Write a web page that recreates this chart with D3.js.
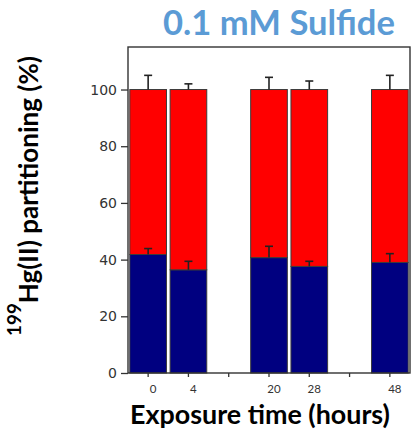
<!DOCTYPE html>
<html>
<head>
<meta charset="utf-8">
<script src="https://cdn.jsdelivr.net/npm/d3@7"></script>
<style>
  html, body { margin: 0; padding: 0; background: #fff; }
  svg { display: block; }
</style>
</head>
<body>
<script>
// Exposure times (hours) and the slot each one occupies on the x axis (empty slots leave gaps)
const timepoints = ["0", "4", "20", "28", "48"];
const slots = [0, 1, 3, 4, 6];
const slotCount = 7;

// Partitioning of 199Hg(II), percent: lower (navy) and upper (red) fractions
const lowerFraction = [41.8, 36.4, 40.7, 37.6, 39.0];
const lowerError = [2.1, 3.0, 4.0, 1.8, 3.1];
const upperFraction = [58.2, 63.6, 59.3, 62.4, 61.0];
const upperError = [5.0, 2.0, 4.3, 3.0, 5.0];

const yTicks = [0, 20, 40, 60, 80, 100];
const yMax = 115;

const W = 411, H = 429;
const plot = { left: 128, right: 410, top: 47, bottom: 373 };

const svg = d3.select("body").append("svg")
  .attr("width", W).attr("height", H);

const x = d3.scaleBand()
  .domain(d3.range(slotCount))
  .range([plot.left, plot.right])
  .paddingInner(0.09)
  .paddingOuter(0.045);

const y = d3.scaleLinear()
  .domain([0, yMax])
  .range([plot.bottom, plot.top]);

const data = timepoints.map((t, i) => ({
  t, slot: slots[i],
  lower: lowerFraction[i], lowerErr: lowerError[i],
  upper: upperFraction[i], upperErr: upperError[i]
}));

// Stacked bars
const bars = svg.append("g");
bars.selectAll("rect.lower").data(data).join("rect")
  .attr("class", "lower")
  .attr("x", d => x(d.slot))
  .attr("width", x.bandwidth())
  .attr("y", d => y(d.lower))
  .attr("height", d => y(0) - y(d.lower))
  .attr("fill", "#000080")
  .attr("stroke", "#3c3c3c").attr("stroke-width", 1);

bars.selectAll("rect.upper").data(data).join("rect")
  .attr("class", "upper")
  .attr("x", d => x(d.slot))
  .attr("width", x.bandwidth())
  .attr("y", d => y(d.lower + d.upper))
  .attr("height", d => y(d.lower) - y(d.lower + d.upper))
  .attr("fill", "#ff0000")
  .attr("stroke", "#3c3c3c").attr("stroke-width", 1);

// Upper-half error bars on each stack segment
function errorBars(cls, top, err) {
  const g = svg.append("g").attr("stroke", "#222").attr("stroke-width", 1.6).attr("fill", "none");
  const cx = d => x(d.slot) + x.bandwidth() / 2;
  g.selectAll("line.stem-" + cls).data(data).join("line")
    .attr("x1", cx).attr("x2", cx)
    .attr("y1", d => y(top(d))).attr("y2", d => y(top(d) + err(d)));
  g.selectAll("line.cap-" + cls).data(data).join("line")
    .attr("x1", d => cx(d) - 4).attr("x2", d => cx(d) + 4)
    .attr("y1", d => y(top(d) + err(d))).attr("y2", d => y(top(d) + err(d)));
}
errorBars("lower", d => d.lower, d => d.lowerErr);
errorBars("upper", d => d.lower + d.upper, d => d.upperErr);

// Frame
svg.append("rect")
  .attr("x", plot.left).attr("y", plot.top)
  .attr("width", plot.right - plot.left).attr("height", plot.bottom - plot.top)
  .attr("fill", "none").attr("stroke", "#333").attr("stroke-width", 1.4);

// Y axis
const yAxis = svg.append("g")
  .attr("transform", `translate(${plot.left},0)`)
  .call(d3.axisLeft(y).tickValues(yTicks).tickSize(7).tickPadding(4));
yAxis.select(".domain").remove();
yAxis.selectAll(".tick line").attr("stroke", "#333").attr("stroke-width", 1.3);
yAxis.selectAll(".tick text")
  .attr("font-family", "'DejaVu Sans', Verdana, sans-serif")
  .attr("font-size", 14)
  .attr("fill", "#333");

// X axis
const labelAt = new Map(data.map(d => [d.slot, d.t]));
const xAxis = svg.append("g")
  .attr("transform", `translate(0,${plot.bottom})`)
  .call(d3.axisBottom(x).tickSize(4).tickFormat(s => labelAt.get(s) || ""));
xAxis.select(".domain").remove();
xAxis.selectAll(".tick line").attr("stroke", "#333").attr("stroke-width", 1.3);
xAxis.selectAll(".tick text")
  .attr("font-family", "Lato, 'Open Sans', sans-serif")
  .attr("font-size", 11.5)
  .attr("fill", "#333")
  .attr("dx", 5)
  .attr("y", 19.5)
  .attr("dy", 0);

// Fit a text element's width to a target by scaling its font sizes
function fitWidth(textSel, target) {
  const node = textSel.node();
  const w = node.getComputedTextLength();
  const k = target / w;
  textSel.attr("font-size", parseFloat(textSel.attr("font-size")) * k);
  textSel.selectAll("tspan").each(function () {
    const fs = this.getAttribute("font-size");
    if (fs) this.setAttribute("font-size", parseFloat(fs) * k);
    const bs = this.getAttribute("dy");
    if (bs) this.setAttribute("dy", parseFloat(bs) * k);
  });
}

// Chart title
const title = svg.append("text")
  .attr("x", 279).attr("y", 35)
  .attr("text-anchor", "middle")
  .attr("font-family", "Lato, 'Open Sans', sans-serif")
  .attr("font-weight", "bold")
  .attr("font-size", 24)
  .attr("fill", "#5b9bd5")
  .text("0.1 mM Sulfide");
fitWidth(title, 232);

// X axis title
const xTitle = svg.append("text")
  .attr("x", 260).attr("y", 423.5)
  .attr("text-anchor", "middle")
  .attr("font-family", "Lato, 'Open Sans', sans-serif")
  .attr("font-weight", "bold")
  .attr("font-size", 22)
  .attr("fill", "#000")
  .text("Exposure time (hours)");
fitWidth(xTitle, 260);

// Y axis title with superscript mass number
const yTitle = svg.append("text")
  .attr("transform", "translate(38,196) rotate(-90)")
  .attr("text-anchor", "middle")
  .attr("font-family", "Lato, 'Open Sans', sans-serif")
  .attr("font-weight", "bold")
  .attr("font-size", 18)
  .attr("fill", "#000");
yTitle.append("tspan").attr("font-size", 13).attr("dy", -12).text("199");
yTitle.append("tspan").attr("dy", 12).text("Hg(II) partitioning (%)");
fitWidth(yTitle, 280);
</script>
</body>
</html>
